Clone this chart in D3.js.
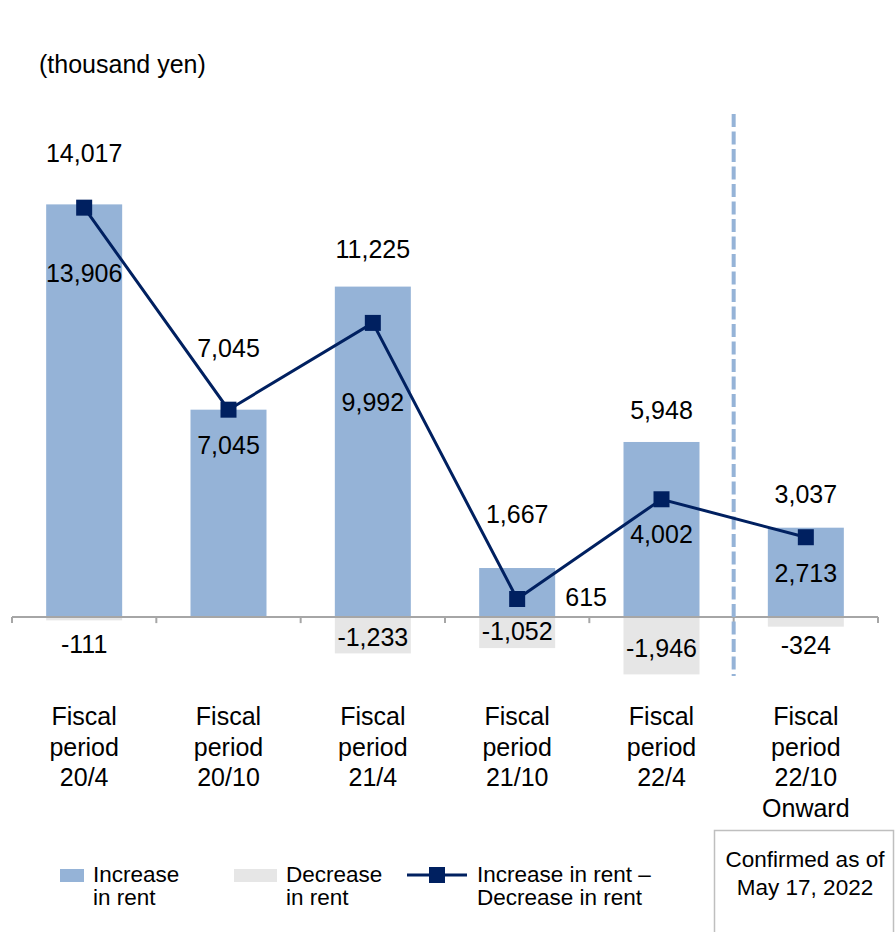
<!DOCTYPE html>
<html>
<head>
  <meta charset="utf-8">
  <title>Increase / decrease in rent</title>
  <script src="https://d3js.org/d3.v7.min.js"></script>
  <style>
    body { margin: 0; background: #fff; }
    text { font-family: "Liberation Sans", Arial, sans-serif; fill: #000; }
  </style>
</head>
<body>
  <svg width="895" height="932"></svg>

  <script>
    // chart data (thousand yen)
    const periods = ["20/4", "20/10", "21/4", "21/10", "22/4", "22/10"];
    const increase = [14017, 7045, 11225, 1667, 5948, 3037];
    const decrease = [-111, 0, -1233, -1052, -1946, -324];
    const net = [13906, 7045, 9992, 615, 4002, 2713];

    // manual label nudges, like the hand-placed labels in the original (px)
    const incDy = [-51, -62, -38, -54, -32, -34];
    const netDy = [65, 35, 79, -2, 35, 36];
    const netDx = [0, 0, 0, 69, 0, 0];
    const decDy = [27, 0, 20, 14, 31, 28];

    const blue = "#95b3d7", grey = "#e6e6e6", navy = "#002060";

    const svg = d3.select("svg");

    const x = d3.scaleBand()
      .domain(periods)
      .range([12, 878])
      .paddingInner(0)
      .paddingOuter(0);

    const y = d3.scaleLinear()
      .domain([-2000, 16000])
      .range([676, 146]);

    const barW = 76;
    const cx = p => x(p) + x.bandwidth() / 2;
    // plain hyphen for negatives, as in the original
    const fmt = d3.formatLocale({ decimal: ".", thousands: ",", grouping: [3], currency: ["", ""], minus: "-" }).format(",");

    // unit label
    svg.append("text")
      .attr("x", 39)
      .attr("y", 73)
      .attr("font-size", "25px")
      .text("(thousand yen)");

    // decrease bars (drawn first, light grey under the axis)
    svg.selectAll(".dec")
      .data(periods)
      .enter().append("rect")
      .attr("class", "dec")
      .attr("x", (d, i) => cx(d) - barW / 2)
      .attr("y", y(0))
      .attr("width", barW)
      .attr("height", (d, i) => y(decrease[i]) - y(0))
      .attr("fill", grey);

    // increase bars
    svg.selectAll(".inc")
      .data(periods)
      .enter().append("rect")
      .attr("class", "inc")
      .attr("x", d => cx(d) - barW / 2)
      .attr("y", (d, i) => y(increase[i]))
      .attr("width", barW)
      .attr("height", (d, i) => y(0) - y(increase[i]))
      .attr("fill", blue);

    // axis line with ticks between categories
    const axisY = y(0);
    svg.append("line")
      .attr("x1", 12).attr("x2", 878)
      .attr("y1", axisY).attr("y2", axisY)
      .attr("stroke", "#a6a6a6").attr("stroke-width", 2);

    const tickXs = periods.map(p => x(p)).concat([x.range()[1]]);
    svg.selectAll(".tick")
      .data(tickXs)
      .enter().append("line")
      .attr("x1", d => d).attr("x2", d => d)
      .attr("y1", axisY).attr("y2", axisY + 6)
      .attr("stroke", "#a6a6a6").attr("stroke-width", 2);

    // dashed separator before the last period
    const sepX = x(periods[5]);
    svg.append("line")
      .attr("x1", sepX).attr("x2", sepX)
      .attr("y1", 114).attr("y2", 676)
      .attr("stroke", blue)
      .attr("stroke-width", 4)
      .attr("stroke-dasharray", "13,4.5");

    // net line
    const line = d3.line()
      .x((d, i) => cx(periods[i]))
      .y(d => y(d));

    svg.append("path")
      .datum(net)
      .attr("d", line)
      .attr("fill", "none")
      .attr("stroke", navy)
      .attr("stroke-width", 3);

    svg.selectAll(".mark")
      .data(net)
      .enter().append("rect")
      .attr("class", "mark")
      .attr("x", (d, i) => cx(periods[i]) - 8)
      .attr("y", d => y(d) - 8)
      .attr("width", 16)
      .attr("height", 16)
      .attr("fill", navy);

    // data labels
    const lbl = svg.append("g")
      .attr("font-size", "25px")
      .attr("text-anchor", "middle");

    lbl.selectAll(".incl")
      .data(increase)
      .enter().append("text")
      .attr("x", (d, i) => cx(periods[i]))
      .attr("y", (d, i) => y(d) + incDy[i] + 9)
      .text(d => fmt(d));

    lbl.selectAll(".netl")
      .data(net)
      .enter().append("text")
      .attr("x", (d, i) => cx(periods[i]) + netDx[i])
      .attr("y", (d, i) => y(d) + netDy[i] + 9)
      .text(d => fmt(d));

    lbl.selectAll(".decl")
      .data(decrease.map((v, i) => ({ v, i })).filter(d => d.v !== 0))
      .enter().append("text")
      .attr("x", d => cx(periods[d.i]))
      .attr("y", d => y(0) + decDy[d.i] + 9)
      .text(d => fmt(d.v));

    // category labels
    const cats = svg.append("g")
      .attr("font-size", "25px")
      .attr("text-anchor", "middle");

    periods.forEach((p, i) => {
      const lines = ["Fiscal", "period", p];
      if (i === periods.length - 1) lines.push("Onward");
      const t = cats.append("text")
        .attr("x", cx(p))
        .attr("y", 725);
      lines.forEach((s, j) => {
        t.append("tspan")
          .attr("x", cx(p))
          .attr("dy", j === 0 ? 0 : 30.5)
          .text(s);
      });
    });

    // legend
    const leg = svg.append("g").attr("font-size", "22.5px");

    leg.append("rect")
      .attr("x", 60).attr("y", 869).attr("width", 24).attr("height", 13)
      .attr("fill", blue);
    leg.append("text").attr("x", 93).attr("y", 882)
      .selectAll("tspan")
      .data(["Increase", "in rent"])
      .enter().append("tspan")
      .attr("x", 93)
      .attr("dy", (d, i) => i ? 23 : 0)
      .text(d => d);

    leg.append("rect")
      .attr("x", 234).attr("y", 869).attr("width", 43).attr("height", 13)
      .attr("fill", grey);
    leg.append("text").attr("x", 286).attr("y", 882)
      .selectAll("tspan")
      .data(["Decrease", "in rent"])
      .enter().append("tspan")
      .attr("x", 286)
      .attr("dy", (d, i) => i ? 23 : 0)
      .text(d => d);

    leg.append("line")
      .attr("x1", 407).attr("x2", 467)
      .attr("y1", 875).attr("y2", 875)
      .attr("stroke", navy).attr("stroke-width", 3);
    leg.append("rect")
      .attr("x", 429).attr("y", 867).attr("width", 16).attr("height", 16)
      .attr("fill", navy);
    leg.append("text").attr("x", 477).attr("y", 882)
      .selectAll("tspan")
      .data(["Increase in rent \u2013", "Decrease in rent"])
      .enter().append("tspan")
      .attr("x", 477)
      .attr("dy", (d, i) => i ? 23 : 0)
      .text(d => d);

    // note box
    svg.append("rect")
      .attr("x", 714.5).attr("y", 830.5)
      .attr("width", 179).attr("height", 120)
      .attr("fill", "none")
      .attr("stroke", "#bfbfbf")
      .attr("stroke-width", 1.5);

    svg.append("text")
      .attr("x", 805)
      .attr("y", 867)
      .attr("font-size", "22.5px")
      .attr("text-anchor", "middle")
      .selectAll("tspan")
      .data(["Confirmed as of", "May 17, 2022"])
      .enter().append("tspan")
      .attr("x", 805)
      .attr("dy", (d, i) => i ? 28 : 0)
      .text(d => d);
  </script>
</body>
</html>
